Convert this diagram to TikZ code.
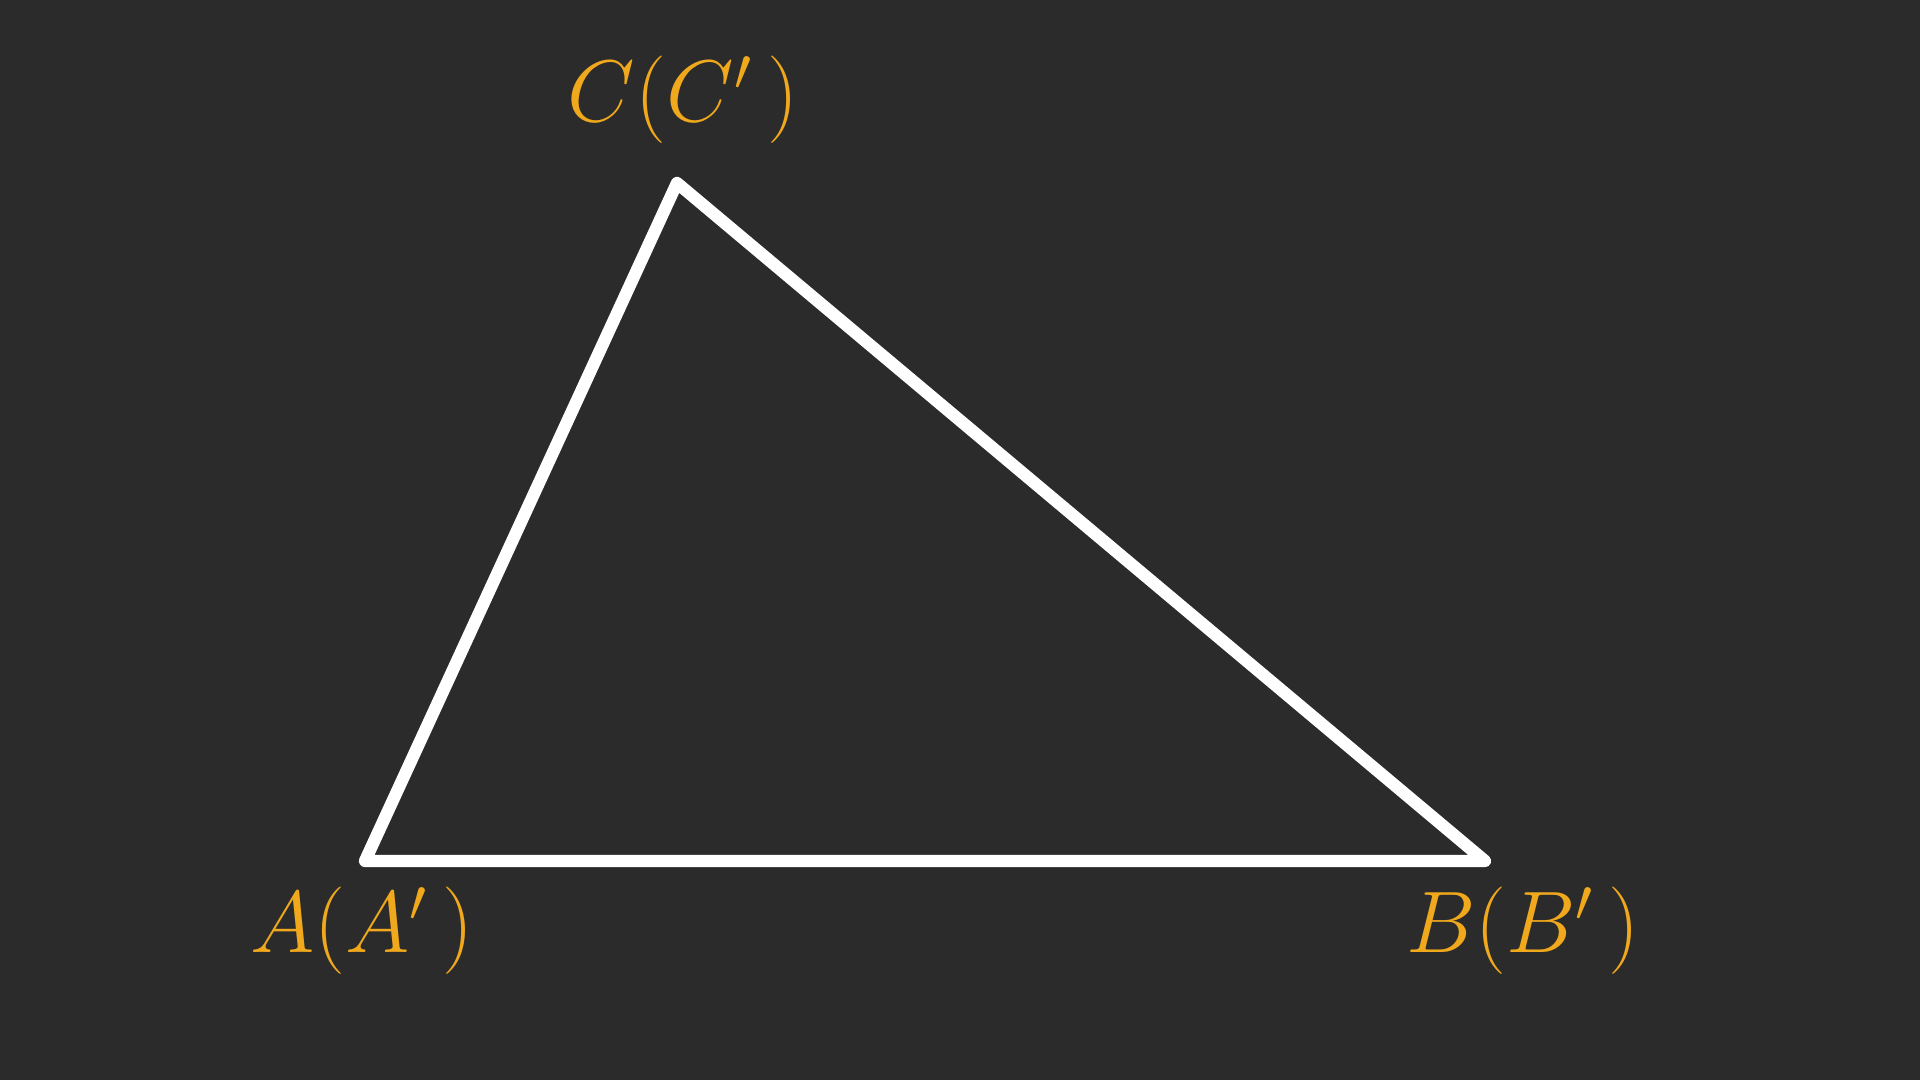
\documentclass[tikz,border=0pt]{standalone}
\usepackage{amsmath}
\usepackage{tikz}
\usetikzlibrary{positioning}
\definecolor{bgcol}{RGB}{43,43,43}
\definecolor{labcol}{RGB}{240,168,28}
\newcommand\vlab[1]{$#1(#1'\,)$}

\begin{document}
\begin{tikzpicture}[
   side/.style={draw=white, line width=3.5pt, line join=round, line cap=round},
   lbl/.style={text=labcol, inner sep=0pt, font=\fontsize{27}{32}\selectfont},
]
% background
\fill[bgcol] (0,0) rectangle (19.2,10.8);
\useasboundingbox (0,0) rectangle (19.2,10.8);
% vertices
\coordinate (A) at (3.65,2.19);
\coordinate (B) at (14.85,2.19);
\coordinate (C) at (6.77,8.97);
% triangle
\draw[side] (A) -- (B) -- (C) -- cycle;
% labels
\node[lbl] (la) at (3.62,1.49) {\vlab{A}};
\node[lbl] (lb) at (15.23,1.49) {\vlab{B}};
\node[lbl] (lc) at (6.83,9.80) {\vlab{C}};
\end{tikzpicture}
\end{document}
